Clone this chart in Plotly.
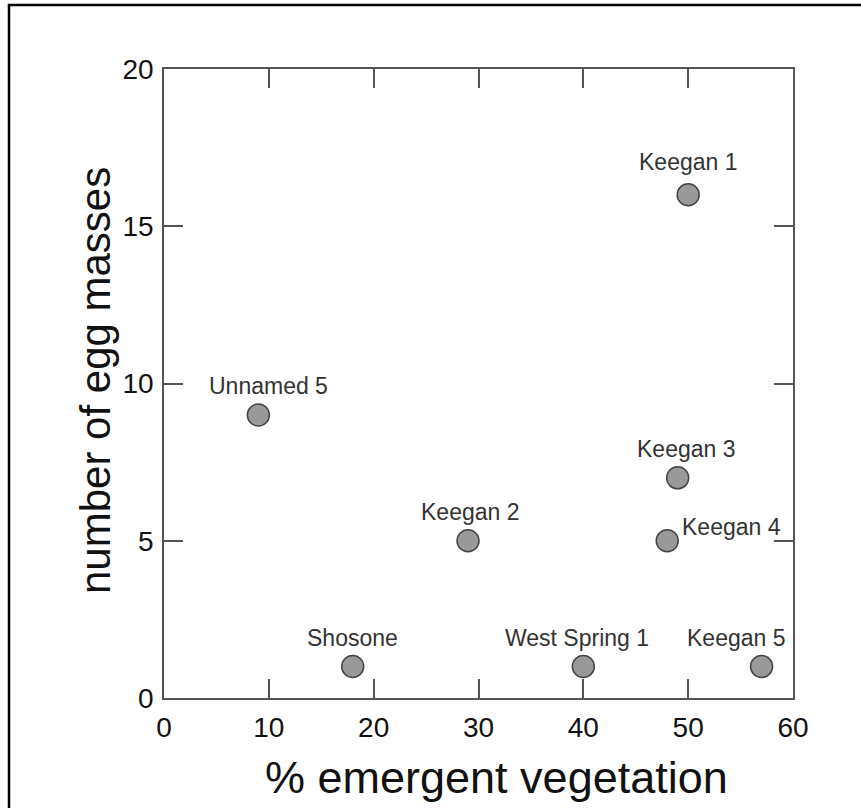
import plotly.graph_objects as go

# Pond survey: emergent vegetation cover vs. egg mass counts
sites = ["Unnamed 5", "Shosone", "Keegan 2", "West Spring 1",
         "Keegan 4", "Keegan 3", "Keegan 1", "Keegan 5"]
pct_emergent = [9, 18, 29, 40, 48, 49, 50, 57]
egg_masses = [9, 1, 5, 1, 5, 7, 16, 1]

x_ticks = [0, 10, 20, 30, 40, 50, 60]
y_ticks = [0, 5, 10, 15, 20]

x_title = "% emergent vegetation"
y_title = "number of egg masses"

# label placement (pixel offsets from each marker)
label_offsets = {
    "Unnamed 5": (10, 29, "center"),
    "Shosone": (0, 29, "center"),
    "Keegan 2": (2, 29, "center"),
    "West Spring 1": (-6, 29, "center"),
    "Keegan 4": (13, 14, "left"),
    "Keegan 3": (8, 29, "center"),
    "Keegan 1": (0, 33, "center"),
    "Keegan 5": (-26, 29, "center"),
}

L, R, T, B = 164, 68, 69, 110
W, H = 861, 808
pw, ph = W - L - R, H - T - B


def px_x(p):
    return (p - L) / pw


def px_y(p):
    return (H - B - p) / ph


axis_col = "#555555"
font_fam = "Liberation Sans, Arial, sans-serif"

fig = go.Figure()
fig.add_trace(go.Scatter(
    x=pct_emergent, y=egg_masses, mode="markers",
    marker=dict(size=22, color="#999999", line=dict(color="#444444", width=1.5)),
    hoverinfo="skip", showlegend=False,
))

annotations = []
for name, xv, yv in zip(sites, pct_emergent, egg_masses):
    dx, dy, anchor = label_offsets[name]
    annotations.append(dict(
        x=xv, y=yv, xref="x", yref="y", text=name, showarrow=False,
        xshift=dx, yshift=dy, xanchor=anchor, yanchor="middle",
        font=dict(family=font_fam, size=23, color="#333333"),
    ))

# axis titles
annotations.append(dict(
    x=px_x(496), y=px_y(777), xref="paper", yref="paper", text=x_title,
    showarrow=False, xanchor="center", yanchor="middle",
    font=dict(family=font_fam, size=45, color="#111111"),
))
annotations.append(dict(
    x=px_x(95), y=px_y(381), xref="paper", yref="paper", text=y_title,
    showarrow=False, xanchor="center", yanchor="middle", textangle=-90,
    font=dict(family=font_fam, size=42, color="#111111"),
))

axis_common = dict(
    showgrid=False, zeroline=False, showline=True, linecolor=axis_col, linewidth=1.5,
    mirror="ticks", ticks="inside", ticklen=19, tickwidth=1.5, tickcolor=axis_col,
    tickfont=dict(family=font_fam, size=28, color="#111111"),
)

# outer frame of the figure
frame_x0 = px_x(9)
frame_x1 = px_x(W + 20)
frame_y1 = px_y(5)
frame_y0 = px_y(H + 20)

fig.update_layout(
    width=W, height=H,
    margin=dict(l=L, r=R, t=T, b=B),
    paper_bgcolor="white", plot_bgcolor="white",
    xaxis=dict(range=[0, 60], tickvals=x_ticks, ticktext=[str(v) for v in x_ticks],
               ticklabelstandoff=4, **axis_common),
    yaxis=dict(range=[0, 20], tickvals=y_ticks, ticktext=[str(v) for v in y_ticks],
               ticklabelstandoff=3, **axis_common),
    annotations=annotations,
    shapes=[dict(type="rect", xref="paper", yref="paper",
                 x0=frame_x0, x1=frame_x1, y0=frame_y0, y1=frame_y1,
                 line=dict(color="black", width=2.5), layer="above")],
)

fig.write_html("out.html")
